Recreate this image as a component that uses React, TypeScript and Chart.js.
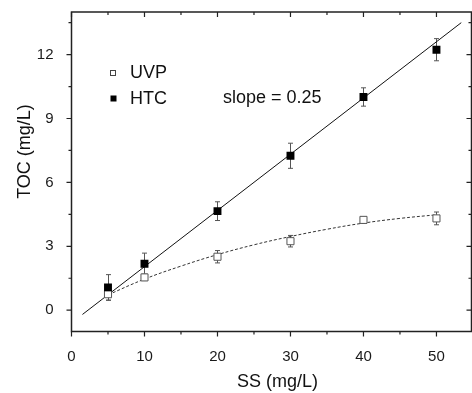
import React, { useEffect, useRef } from "react";
import { Chart, registerables } from "chart.js";

Chart.register(...registerables);

// ---- data ----
const ssValues = [5, 10, 20, 30, 40, 50];
const uvpToc = [0.75, 1.54, 2.51, 3.24, 4.24, 4.31];
const uvpErr = [0.28, 0.15, 0.29, 0.27, 0.12, 0.3];
const htcToc = [1.07, 2.18, 4.65, 7.25, 10.01, 12.23];
const htcErr = [0.6, 0.5, 0.44, 0.59, 0.43, 0.52];
const fitLineSS = [1.5, 53.4];
const fitLineToc = [-0.2, 13.5];
const uvpCurveSS = [5, 10, 15, 20, 25, 30, 35, 40, 45, 50];
const uvpCurveToc = [0.72, 1.46, 2.07, 2.61, 3.07, 3.46, 3.8, 4.09, 4.31, 4.48];
const xMajorTicks = [0, 10, 20, 30, 40, 50];
const xMinorTicks = [5, 15, 25, 35, 45];
const yMajorTicks = [0, 3, 6, 9, 12];
const yMinorTicks = [1.5, 4.5, 7.5, 10.5, 13.5];
const seriesLabels = ["UVP", "HTC"];
const slopeLabel = "slope = 0.25";
const xTitle = "SS (mg/L)";
const yTitle = "TOC (mg/L)";

const FONT = "'Liberation Sans', Arial, sans-serif";

const framePlugin = {
  id: "frameAndExtras",
  beforeDatasetsDraw(chart: any) {
    const ctx = chart.ctx;
    const xs = chart.scales.x;
    const ys = chart.scales.y;
    ctx.save();
    ctx.strokeStyle = "#555";
    ctx.lineWidth = 1;
    const drawErr = (vals: number[], errs: number[]) => {
      vals.forEach((v, i) => {
        const px = Math.round(xs.getPixelForValue(ssValues[i])) + 0.5;
        const top = ys.getPixelForValue(v + errs[i]);
        const bot = ys.getPixelForValue(v - errs[i]);
        ctx.beginPath();
        ctx.moveTo(px, top);
        ctx.lineTo(px, bot);
        ctx.moveTo(px - 2.5, top);
        ctx.lineTo(px + 2.5, top);
        ctx.moveTo(px - 2.5, bot);
        ctx.lineTo(px + 2.5, bot);
        ctx.stroke();
      });
    };
    drawErr(uvpToc, uvpErr);
    drawErr(htcToc, htcErr);
    ctx.restore();
  },
  afterDraw(chart: any) {
    const ctx = chart.ctx;
    const xs = chart.scales.x;
    const ys = chart.scales.y;
    const { left, right, top, bottom } = chart.chartArea;
    ctx.save();
    // frame
    ctx.strokeStyle = "#222";
    ctx.lineWidth = 1.5;
    ctx.beginPath();
    ctx.rect(left, top, right - left, bottom - top);
    ctx.stroke();
    // ticks
    ctx.lineWidth = 1.2;
    const xt = (vals: number[], len: number) => {
      vals.forEach((v) => {
        const px = xs.getPixelForValue(v);
        ctx.beginPath();
        ctx.moveTo(px, bottom);
        ctx.lineTo(px, bottom + len);
        ctx.moveTo(px, top);
        ctx.lineTo(px, top + len);
        ctx.stroke();
      });
    };
    const yt = (vals: number[], len: number) => {
      vals.forEach((v) => {
        const py = ys.getPixelForValue(v);
        ctx.beginPath();
        ctx.moveTo(left, py);
        ctx.lineTo(left - len, py);
        ctx.moveTo(right, py);
        ctx.lineTo(right - len, py);
        ctx.stroke();
      });
    };
    xt(xMajorTicks, 5);
    xt(xMinorTicks, 3);
    yt(yMajorTicks, 5);
    yt(yMinorTicks, 3);

    // legend
    ctx.font = `18px ${FONT}`;
    ctx.textBaseline = "middle";
    ctx.textAlign = "left";
    ctx.lineWidth = 1;
    ctx.strokeStyle = "#444";
    ctx.fillStyle = "#fff";
    ctx.fillRect(110.5, 70.5, 5, 5);
    ctx.strokeRect(110.5, 70.5, 5, 5);
    ctx.fillStyle = "#000";
    ctx.fillRect(110.5, 95.5, 6, 6);
    ctx.fillStyle = "#111";
    ctx.fillText(seriesLabels[0], 130, 73);
    ctx.fillText(seriesLabels[1], 130, 99);
    ctx.fillText(slopeLabel, 223, 98);

    // axis titles
    ctx.textAlign = "center";
    ctx.fillText(xTitle, 277.5, 382);
    ctx.translate(25, 151.5);
    ctx.rotate(-Math.PI / 2);
    ctx.fillText(yTitle, 0, 0);
    ctx.restore();
  },
};

const noPad = (s: any) => {
  s.paddingTop = 0;
  s.paddingBottom = 0;
  s.paddingLeft = 0;
  s.paddingRight = 0;
};

export default function App() {
  const ref = useRef<HTMLCanvasElement | null>(null);
  useEffect(() => {
    if (!ref.current) return;
    const chart = new Chart(ref.current, {
      type: "scatter",
      data: {
        datasets: [
          {
            label: seriesLabels[1],
            data: ssValues.map((x, i) => ({ x, y: htcToc[i] })),
            pointStyle: "rect",
            pointRadius: 5.6,
            backgroundColor: "#000",
            borderColor: "#000",
            borderWidth: 0,
            order: 1,
          },
          {
            label: seriesLabels[0],
            data: ssValues.map((x, i) => ({ x, y: uvpToc[i] })),
            pointStyle: "rect",
            pointRadius: 5,
            backgroundColor: "#fff",
            borderColor: "#555",
            borderWidth: 1,
            order: 2,
          },
          {
            type: "line",
            label: "fit",
            data: fitLineSS.map((x, i) => ({ x, y: fitLineToc[i] })),
            borderColor: "#111",
            borderWidth: 1,
            pointRadius: 0,
            fill: false,
            order: 3,
          },
          {
            type: "line",
            label: "uvp fit",
            data: uvpCurveSS.map((x, i) => ({ x, y: uvpCurveToc[i] })),
            borderColor: "#333",
            borderWidth: 1,
            borderDash: [3, 2],
            pointRadius: 0,
            tension: 0.4,
            fill: false,
            order: 4,
          },
        ] as any,
      },
      plugins: [framePlugin],
      options: {
        animation: false,
        responsive: false,
        maintainAspectRatio: false,
        layout: { autoPadding: false, padding: { top: 12, right: 0.5, left: 0, bottom: 0 } },
        plugins: {
          legend: { display: false },
          tooltip: { enabled: false },
          title: { display: false },
        },
        scales: {
          x: {
            type: "linear",
            min: 0,
            max: 54.8,
            grid: { display: false },
            border: { display: false },
            afterBuildTicks: (s: any) => {
              s.ticks = xMajorTicks.map((v) => ({ value: v }));
            },
            afterFit: (s: any) => {
              s.height = 61.5;
              noPad(s);
            },
            ticks: {
              padding: 8,
              color: "#1a1a1a",
              font: { family: FONT, size: 15 },
              maxRotation: 0,
              autoSkip: false,
            },
          },
          y: {
            type: "linear",
            min: -1,
            max: 14,
            grid: { display: false },
            border: { display: false },
            afterBuildTicks: (s: any) => {
              s.ticks = yMajorTicks.map((v) => ({ value: v }));
            },
            afterFit: (s: any) => {
              s.width = 71.5;
              noPad(s);
            },
            ticks: {
              padding: 10,
              color: "#1a1a1a",
              font: { family: FONT, size: 15 },
              autoSkip: false,
            },
          },
        },
      } as any,
    });
    return () => chart.destroy();
  }, []);
  return (
    <div style={{ position: "fixed", left: 0, top: 0, width: 472, height: 393, background: "#fff" }}>
      <canvas ref={ref} width={472} height={393} style={{ width: 472, height: 393 }} />
    </div>
  );
}
